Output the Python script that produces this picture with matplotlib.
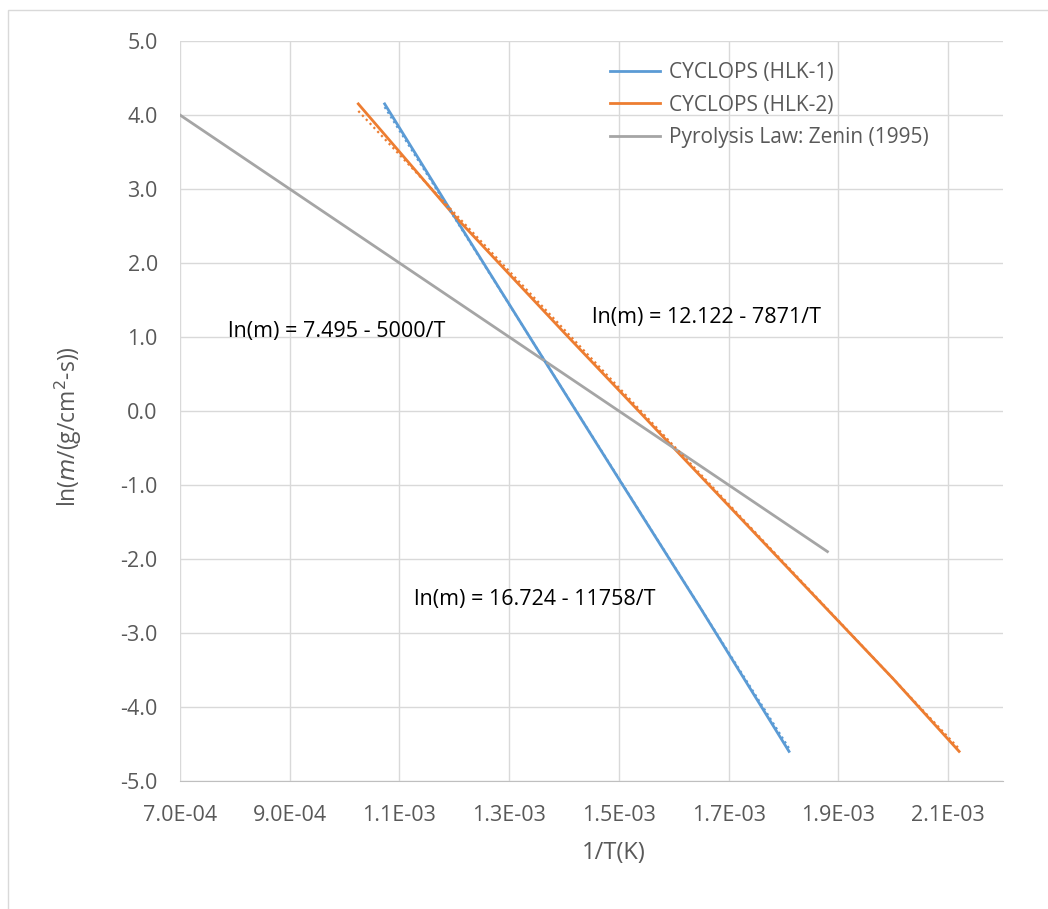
import numpy as np
import matplotlib
matplotlib.use("Agg")
import matplotlib.pyplot as plt
from matplotlib.patches import Rectangle

# data
hlk1_x = [1.073e-3, 1.20e-3, 1.35e-3, 1.50e-3, 1.65e-3, 1.81e-3]
hlk1_y = [4.15, 2.63, 0.85, -0.92, -2.68, -4.60]
hlk2_x = [1.025e-3, 1.20e-3, 1.40e-3, 1.60e-3, 1.80e-3, 2.00e-3, 2.12e-3]
hlk2_y = [4.15, 2.64, 1.06, -0.50, -2.06, -3.62, -4.60]
zenin_x = [7.0e-4, 1.88e-3]
zenin_y = [4.0, -1.9]

# trendline coefficients (intercept, slope) from the chart labels
fit1 = (16.724, -11758)
fit2 = (12.122, -7871)

xticks = np.arange(7e-4, 2.11e-3, 2e-4)
yticks = np.arange(-5, 5.01, 1)

blue, orange, grey = "#5B9BD5", "#ED7D31", "#A5A5A5"
txt = "#595959"
plt.rcParams["font.family"] = ["Open Sans", "DejaVu Sans"]

fig = plt.figure(figsize=(10.48, 9.09), dpi=100)
ax = fig.add_axes([180 / 1048, 1 - 781 / 909, 823 / 1048, 740 / 909])

# light chart-area border
fig.patches.append(Rectangle((8 / 1048, -0.01), 1.0, 1 - 10 / 909 + 0.01,
                             transform=fig.transFigure, fill=False,
                             ec="#D9D9D9", lw=1))

ax.plot(hlk1_x, hlk1_y, color=blue, lw=2, label="CYCLOPS (HLK-1)", zorder=3)
ax.plot(hlk2_x, hlk2_y, color=orange, lw=2, label="CYCLOPS (HLK-2)", zorder=3)
ax.plot(zenin_x, zenin_y, color=grey, lw=2, label="Pyrolysis Law: Zenin (1995)", zorder=3)

for (b, m), xs, c in [(fit1, hlk1_x, blue), (fit2, hlk2_x, orange)]:
    xx = np.array([xs[0], xs[-1]])
    ax.plot(xx, b + m * xx, color=c, lw=1.6, ls=(0, (1, 1.5)), zorder=4)

ax.set_xlim(7e-4, 2.2e-3)
ax.set_ylim(-5, 5)
ax.set_xticks(xticks)
ax.set_xticklabels([f"{v:.1E}" for v in xticks])
ax.set_yticks(yticks)
ax.set_yticklabels([f"{v:.1f}" for v in yticks])
ax.tick_params(axis="x", length=0, labelsize=15.5, colors=txt, pad=17)
ax.tick_params(axis="y", length=0, labelsize=15.5, colors=txt, pad=16)
ax.grid(True, color="#D9D9D9", lw=1)
ax.set_axisbelow(True)
for s in ["top", "right", "left"]:
    ax.spines[s].set_visible(False)
ax.spines["bottom"].set_color("#BFBFBF")

ax.set_xlabel("1/T(K)", fontsize=17, color=txt, va="center", ha="center")
ax.xaxis.set_label_coords((614 - 180) / 823, (781 - 853) / 740)
ax.set_ylabel(r"ln($\mathit{m}$/(g/cm$^{2}$-s))", fontsize=16.5, color=txt,
              va="center", ha="center")
ax.yaxis.set_label_coords((68 - 180) / 823, (781 - 427) / 740)

ax.text(7.87e-4, 1.08, "ln(m) = 7.495 - 5000/T", fontsize=15.5, color="black", va="center")
ax.text(1.451e-3, 1.26, "ln(m) = 12.122 - 7871/T", fontsize=15.5, color="black", va="center")
ax.text(1.127e-3, -2.55, "ln(m) = 16.724 - 11758/T", fontsize=15.5, color="black", va="center")

leg = ax.legend(loc="upper left", bbox_to_anchor=((602 - 180) / 823, 1 - 13 / 740),
                frameon=False, fontsize=15, handlelength=2.4, labelspacing=0.55,
                handletextpad=0.4, borderaxespad=0)
for t in leg.get_texts():
    t.set_color(txt)

fig.savefig("out.png", dpi=100)
